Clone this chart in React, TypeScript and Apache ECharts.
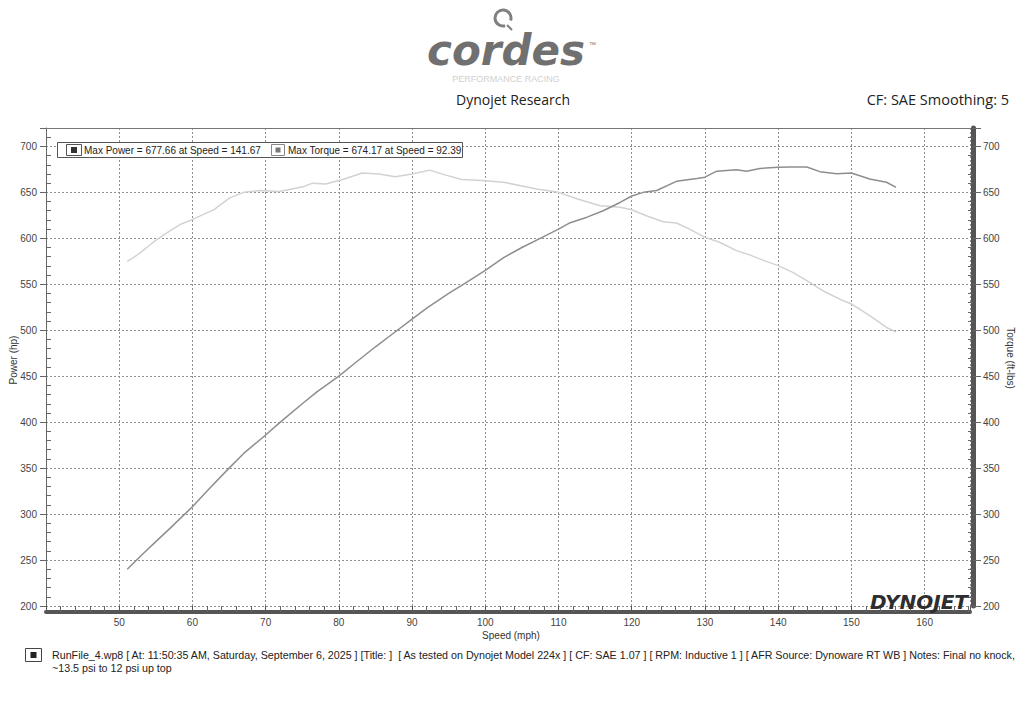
import React, { useEffect, useRef } from "react";
import * as echarts from "echarts";

// Speed (mph) / Power (hp)
const powerSpeed = [51.1, 53, 55, 57, 60, 62, 65, 67, 70, 72, 75, 77, 80, 82, 85, 87, 90, 92, 95, 97, 100, 102.5, 105, 107.5, 110, 111.6, 113.9, 116.1, 118.4, 120, 121.6, 123.4, 126.1, 128.9, 130, 131.6, 134.3, 135.7, 137.5, 140, 141.67, 143.9, 145.7, 148, 150, 152.5, 154.8, 156.1];
const powerHp = [240, 255, 270, 285, 308, 325, 350, 366, 386, 400, 420, 433, 450, 463, 482, 494, 512, 524, 540, 550, 565, 579, 590, 600, 610, 617, 623, 630, 639, 646, 650, 652, 662, 665, 666.5, 673, 674.6, 673, 676, 677.2, 677.66, 677.5, 672.5, 670.3, 671, 664.5, 661, 655.5];

// Speed (mph) / Torque (ft-lbs)
const torqueSpeed = [51.1, 52.5, 54.7, 56.5, 58.3, 59.9, 61.5, 62.9, 65.1, 67, 69.2, 71.9, 75.1, 76.4, 78.2, 80.5, 83.2, 85.5, 87.7, 90, 92.39, 94.5, 96.8, 99.6, 102.5, 105, 107, 110, 112.5, 115.7, 118.4, 120, 122, 124.3, 126.1, 127.9, 130, 132, 134.3, 136.1, 138, 140, 142, 143.9, 146.1, 148.9, 150, 152.5, 154.8, 156.1];
const torqueFtLb = [575, 582, 596, 606, 615, 620, 626, 631, 644, 650, 652, 651, 656, 660, 659, 664, 671, 670, 667, 670, 674.17, 669, 664, 663, 661, 657, 653.6, 650, 643, 635.5, 633.7, 631, 624.6, 618, 616.7, 610, 601, 595.7, 586.6, 582, 576, 570.3, 563, 554, 543, 532, 528.6, 516, 503, 498];

const legendTexts = ["Max Power = 677.66 at Speed = 141.67", "Max Torque = 674.17 at Speed = 92.39"];
const footerLines = [
  "RunFile_4.wp8 [ At: 11:50:35 AM, Saturday, September 6, 2025 ] [Title: ]  [ As tested on Dynojet Model 224x ] [ CF: SAE 1.07 ] [ RPM: Inductive 1 ] [ AFR Source: Dynoware RT WB ] Notes: Final no knock,",
  "~13.5 psi to 12 psi up top",
];

const FONT = "'Liberation Sans', Arial, sans-serif";
const HFONT = "'Open Sans', 'Liberation Sans', sans-serif";

export default function App() {
  const ref = useRef<HTMLDivElement>(null);
  useEffect(() => {
    if (!ref.current) return;
    const chart = echarts.init(ref.current, null, { renderer: "svg" });
    const splitLine = { show: true, lineStyle: { color: "#8f8f8f", type: [2, 2] as any, width: 1 } };
    const yCommon = {
      type: "value",
      min: 200,
      max: 720,
      interval: 50,
      splitLine,
      axisLabel: { fontSize: 10, color: "#444", fontFamily: FONT, showMaxLabel: false },
      minorTick: { show: true, splitNumber: 5, length: -5, lineStyle: { color: "#666" } },
    };
    chart.setOption({
      animation: false,
      backgroundColor: "#ffffff",
      grid: { left: 46, right: 54, top: 128, bottom: 110, containLabel: false },
      xAxis: [
        {
          type: "value",
          min: 40,
          max: 166.2,
          interval: 10,
          position: "bottom",
          offset: 6,
          axisLine: { show: true, lineStyle: { color: "#555", width: 4 } },
          axisTick: { show: true, inside: true, length: 6, lineStyle: { color: "#555" } },
          minorTick: { show: true, splitNumber: 5, length: 6, lineStyle: { color: "#666" } },
          axisLabel: {
            fontSize: 10,
            color: "#444",
            fontFamily: FONT,
            margin: 5,
            showMaxLabel: false,
            formatter: (v: number) => (v === 40 ? "" : String(v)),
          },
          splitLine,
        },
        {
          type: "value",
          min: 40,
          max: 166.2,
          position: "top",
          axisLine: { show: true, lineStyle: { color: "#777", width: 1 } },
          axisTick: { show: false },
          axisLabel: { show: false },
          splitLine: { show: false },
        },
      ],
      yAxis: [
        {
          ...yCommon,
          position: "left",
          axisLine: { show: true, lineStyle: { color: "#666", width: 1 } },
          axisTick: { show: true, length: 6, lineStyle: { color: "#666" } },
          axisLabel: { ...yCommon.axisLabel, margin: 9 },
        },
        {
          ...yCommon,
          position: "right",
          offset: 3,
          splitLine: { show: false },
          axisLine: { show: true, lineStyle: { color: "#555", width: 5 } },
          axisTick: { show: true, length: 8, lineStyle: { color: "#666" } },
          axisLabel: { ...yCommon.axisLabel, margin: 10 },
        },
      ],
      series: [
        {
          name: "Power",
          type: "line",
          xAxisIndex: 0,
          yAxisIndex: 0,
          showSymbol: false,
          data: powerSpeed.map((s, i) => [s, powerHp[i]]),
          lineStyle: { color: "#8e8e8e", width: 1.5 },
          z: 3,
        },
        {
          name: "Torque",
          type: "line",
          xAxisIndex: 0,
          yAxisIndex: 1,
          showSymbol: false,
          data: torqueSpeed.map((s, i) => [s, torqueFtLb[i]]),
          lineStyle: { color: "#d2d2d2", width: 1.5 },
          z: 2,
        },
      ],
      graphic: [
        // Cordes logo
        {
          type: "arc",
          shape: { cx: 503, cy: 18, r: 8, startAngle: 1.3, endAngle: 1.3 + 5.3, clockwise: true },
          style: { stroke: "#808080", lineWidth: 3, fill: "none" },
        },
        { type: "line", shape: { x1: 507, y1: 25, x2: 512, y2: 30 }, style: { stroke: "#808080", lineWidth: 2 } },
        {
          type: "text",
          x: 506,
          y: 50.5,
          style: {
            text: "cordes",
            fontFamily: "'DejaVu Sans', sans-serif",
            fontWeight: "bold",
            fontStyle: "italic",
            fontSize: 42,
            fill: "#707070",
            align: "center",
            verticalAlign: "middle",
          },
        },
        { type: "text", x: 589, y: 41, style: { text: "™", fontSize: 7, fill: "#777", fontFamily: FONT } },
        {
          type: "text",
          x: 506,
          y: 79,
          style: { text: "PERFORMANCE RACING", fontSize: 9, fill: "#d0d0d0", fontFamily: FONT, align: "center", verticalAlign: "middle" },
        },
        {
          type: "text",
          x: 513,
          y: 99,
          style: { text: "Dynojet Research", fontSize: 14, fill: "#222", fontFamily: HFONT, align: "center", verticalAlign: "middle" },
        },
        {
          type: "text",
          x: 1009,
          y: 99,
          style: { text: "CF: SAE Smoothing: 5", fontSize: 14.5, fill: "#222", fontFamily: HFONT, align: "right", verticalAlign: "middle" },
        },
        // Legend box
        { type: "rect", shape: { x: 57.5, y: 142.5, width: 405, height: 15 }, style: { fill: "#fff", stroke: "#555", lineWidth: 1 }, z: 10 },
        { type: "rect", shape: { x: 66.5, y: 144.5, width: 15, height: 11 }, style: { fill: "#fff", stroke: "#555", lineWidth: 1 }, z: 11 },
        { type: "rect", shape: { x: 71, y: 147, width: 6, height: 6 }, style: { fill: "#333" }, z: 11 },
        {
          type: "text",
          x: 84,
          y: 150.5,
          z: 11,
          style: { text: legendTexts[0], fontSize: 10, fill: "#222", fontFamily: FONT, verticalAlign: "middle" },
        },
        { type: "rect", shape: { x: 271.5, y: 144.5, width: 13, height: 11 }, style: { fill: "#fff", stroke: "#888", lineWidth: 1 }, z: 11 },
        { type: "rect", shape: { x: 275.5, y: 147.5, width: 5, height: 5 }, style: { fill: "#777" }, z: 11 },
        {
          type: "text",
          x: 288,
          y: 150.5,
          z: 11,
          style: { text: legendTexts[1], fontSize: 10, fill: "#222", fontFamily: FONT, verticalAlign: "middle" },
        },
        // Axis names
        {
          type: "text",
          x: 13,
          y: 360,
          rotation: Math.PI / 2,
          style: { text: "Power (hp)", fontSize: 10, fill: "#333", fontFamily: FONT, align: "center", verticalAlign: "middle" },
        },
        {
          type: "text",
          x: 1010,
          y: 358,
          rotation: -Math.PI / 2,
          style: { text: "Torque (ft-lbs)", fontSize: 10, fill: "#333", fontFamily: FONT, align: "center", verticalAlign: "middle" },
        },
        {
          type: "text",
          x: 511,
          y: 635,
          style: { text: "Speed (mph)", fontSize: 10, fill: "#333", fontFamily: FONT, align: "center", verticalAlign: "middle" },
        },
        // DYNOJET logo
        {
          type: "text",
          x: 968,
          y: 602,
          z: 20,
          style: {
            text: "DYNOJET",
            fontSize: 20,
            fontWeight: 900,
            fontStyle: "italic",
            fill: "#2e2e2e",
            fontFamily: "'DejaVu Sans', sans-serif",
            align: "right",
            verticalAlign: "middle",
          },
        },
        // Footer
        { type: "rect", shape: { x: 25.5, y: 648.5, width: 16, height: 13 }, style: { fill: "#fff", stroke: "#444", lineWidth: 1 } },
        { type: "rect", shape: { x: 30.5, y: 652, width: 6, height: 6 }, style: { fill: "#222" } },
        {
          type: "text",
          x: 52,
          y: 655,
          style: { text: footerLines[0], fontSize: 10.7, fill: "#222", fontFamily: FONT, verticalAlign: "middle" },
        },
        {
          type: "text",
          x: 52,
          y: 668,
          style: { text: footerLines[1], fontSize: 10.7, fill: "#222", fontFamily: FONT, verticalAlign: "middle" },
        },
      ],
    });
    return () => chart.dispose();
  }, []);
  return <div ref={ref} style={{ position: "absolute", left: 0, top: 0, width: 1024, height: 716 }} />;
}
